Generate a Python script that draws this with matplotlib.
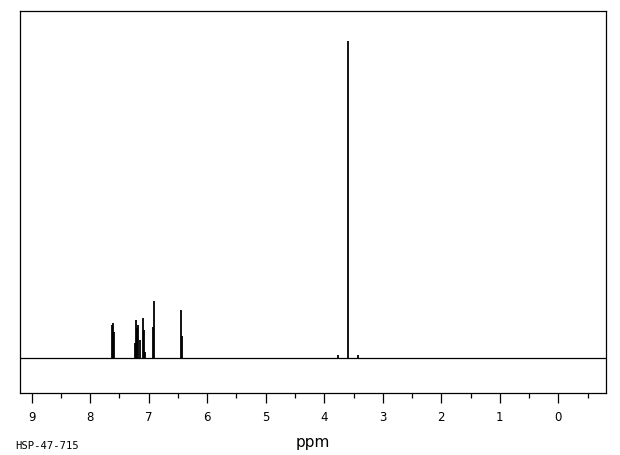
import numpy as np
import matplotlib
matplotlib.use("Agg")
import matplotlib.pyplot as plt
from matplotlib.ticker import MultipleLocator

# peak list (ppm, relative intensity, main peak = 100)
shift = [7.623, 7.606, 7.588,
         7.240, 7.218, 7.195, 7.178, 7.149, 7.103, 7.081, 7.064,
         6.922, 6.905,
         6.443, 6.426,
         3.761, 3.590, 3.419]
intensity = [10.4, 11.0, 8.2,
             4.7, 12.0, 9.5, 10.4, 5.7, 12.6, 8.8, 1.9,
             9.8, 18.0,
             15.1, 6.9,
             1.0, 100.0, 1.0]
tick_ppm = list(range(0, 10))
code = "HSP-47-715"

fig = plt.figure(figsize=(6.2, 4.55), dpi=100)
ax = fig.add_axes([0.0327, 0.1363, 0.9447, 0.8396])

ax.axhline(0, color="black", linewidth=0.9)
ax.vlines(shift, 0, intensity, color="black", linewidth=1.3)

ax.set_xlim(9.195, -0.815)
ax.set_ylim(-11.04, 109.46)

ax.set_xticks(tick_ppm)
ax.set_xticklabels([str(t) for t in tick_ppm])
ax.xaxis.set_minor_locator(MultipleLocator(0.5))
ax.tick_params(axis="x", which="major", length=7.5, width=0.9, direction="out",
               pad=5.5, labelsize=8.5)
ax.tick_params(axis="x", which="minor", length=3.8, width=0.9, direction="out")
ax.set_yticks([])
for s in ax.spines.values():
    s.set_linewidth(0.9)

fig.text(313 / 620, 1 - 443 / 455, "ppm", ha="center", va="center", fontsize=11)
fig.text(15 / 620, 1 - 446 / 455, code, ha="left", va="center",
         fontsize=7.6, family="DejaVu Sans Mono")

plt.savefig("out.png", dpi=100)
